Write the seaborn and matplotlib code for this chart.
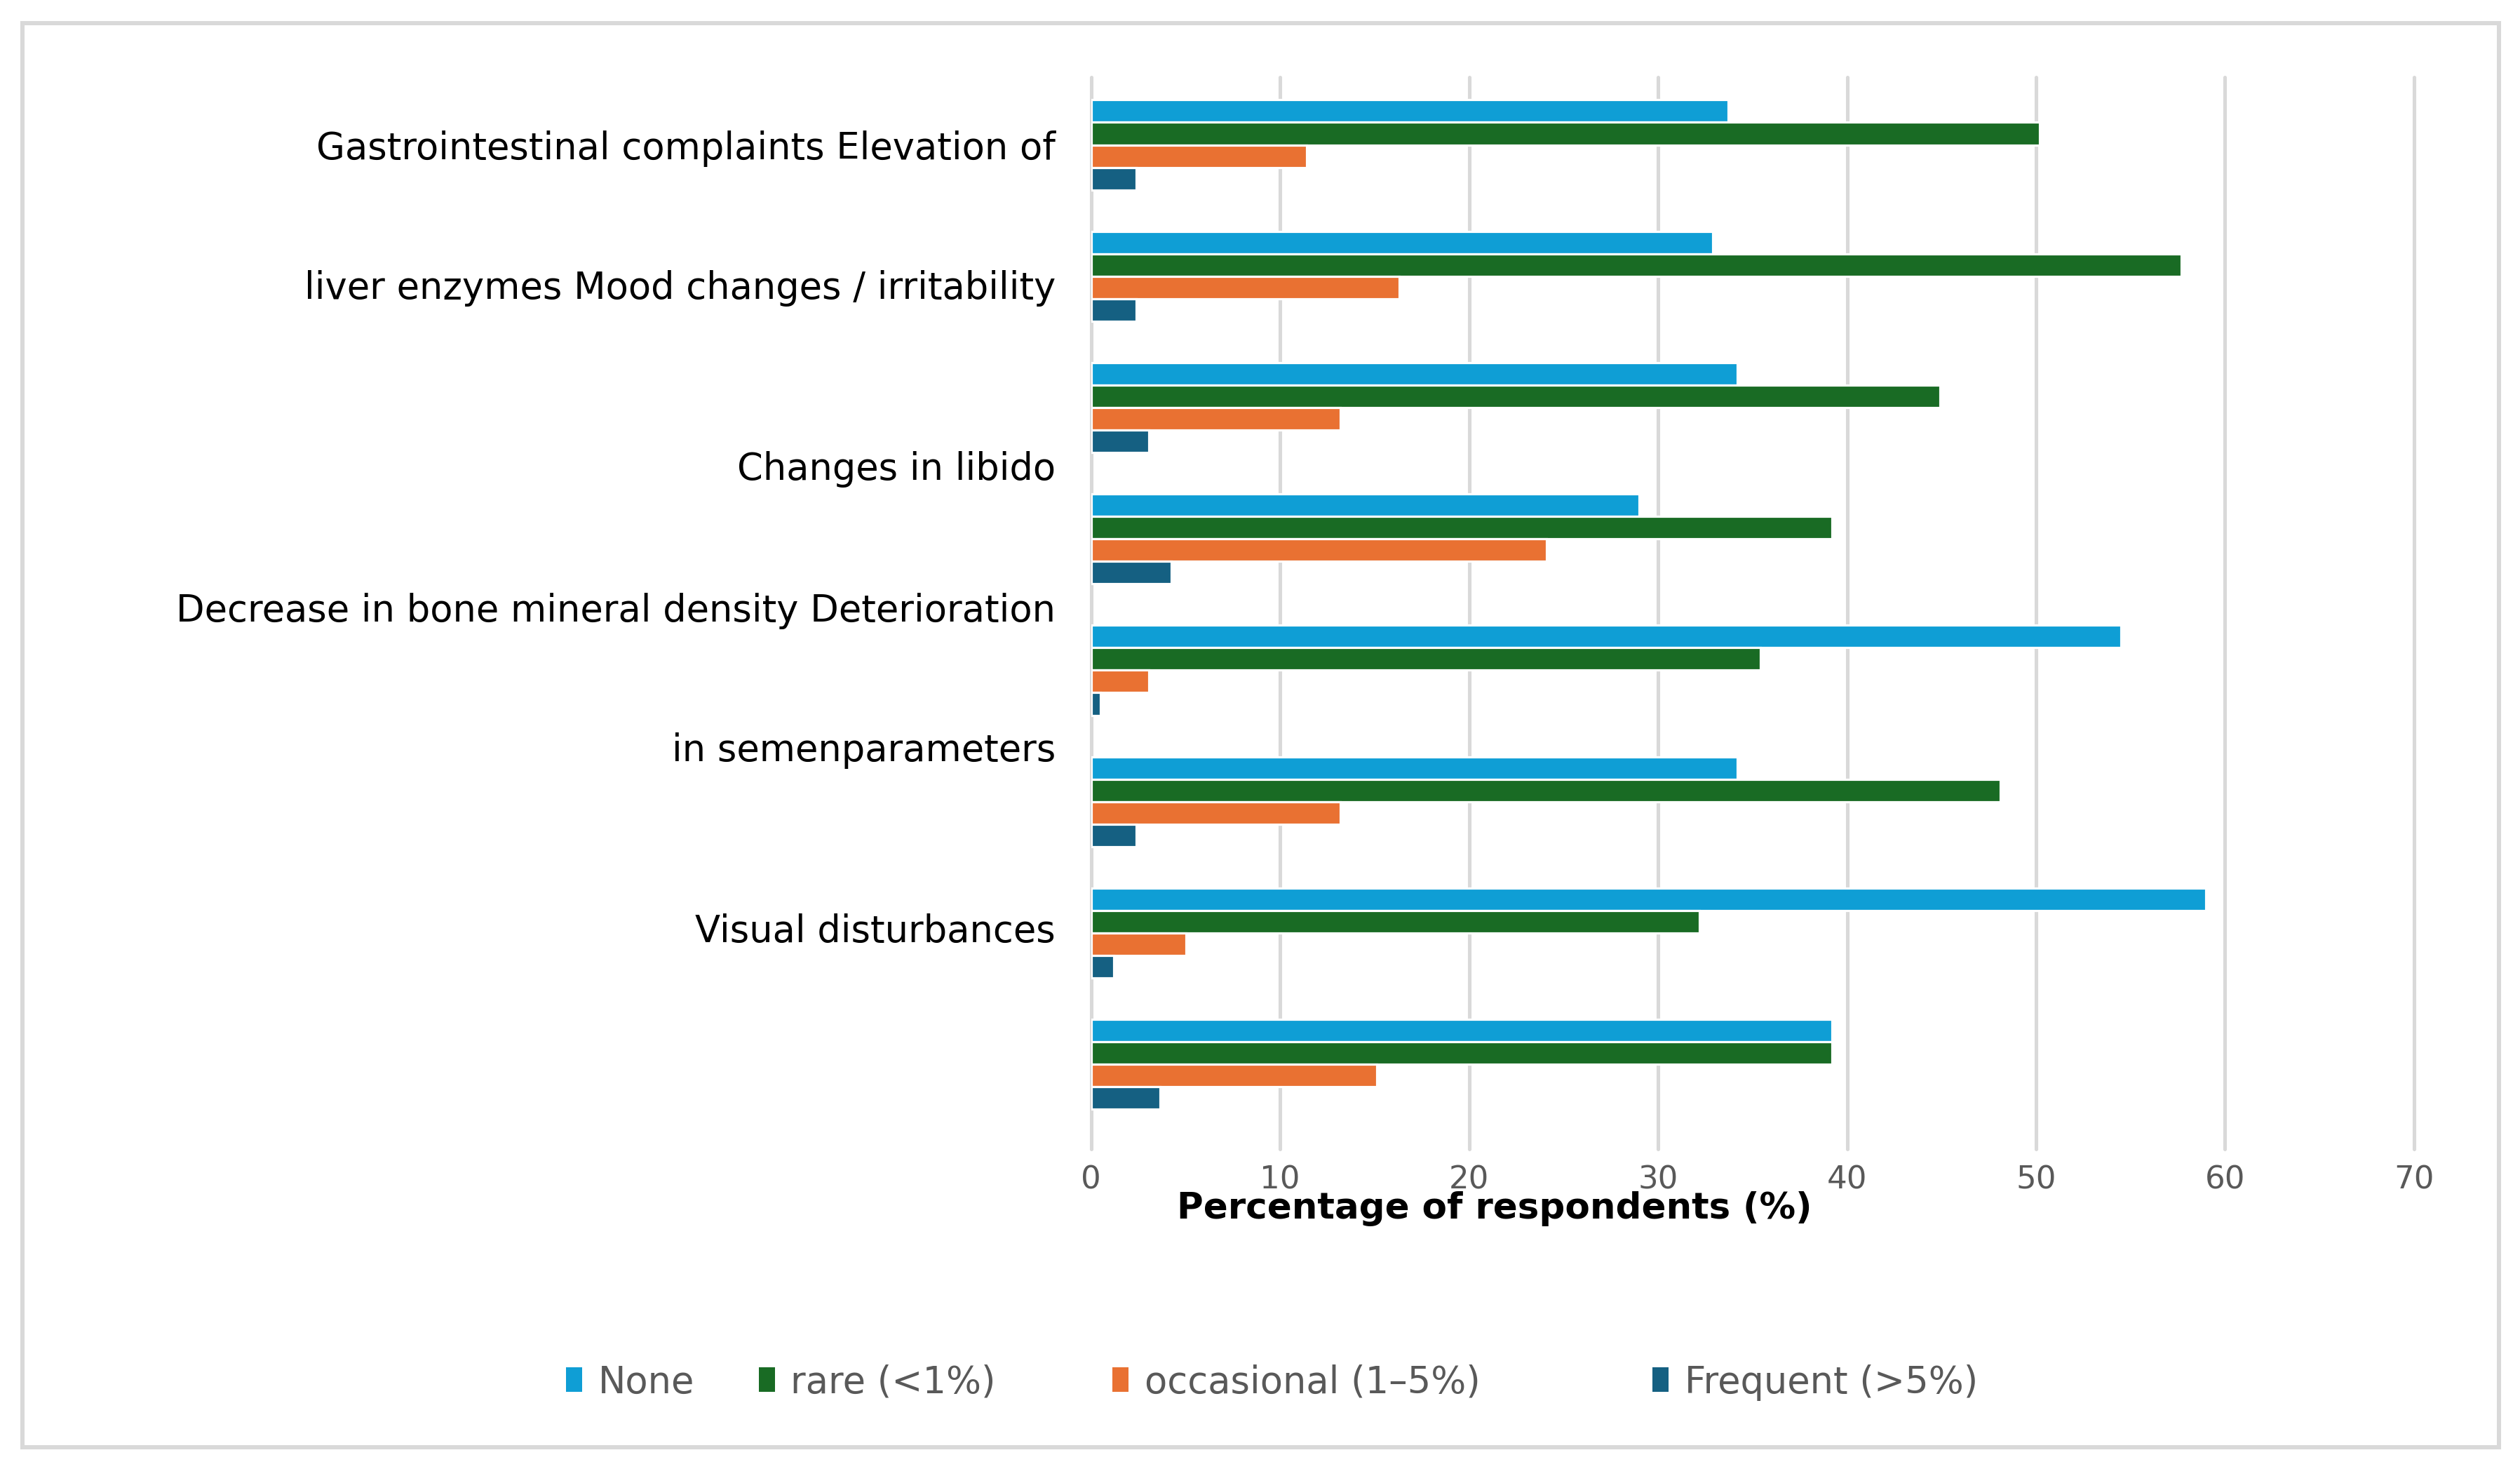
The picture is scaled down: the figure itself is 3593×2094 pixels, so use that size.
import matplotlib
matplotlib.use("Agg")
import matplotlib.pyplot as plt
import seaborn as sns
import pandas as pd
from matplotlib.patches import Rectangle, Patch

# bar groups, top to bottom
groups = ["g1", "g2", "g3", "g4", "g5", "g6", "g7", "g8"]
series = ["None", "rare (<1%)", "occasional (1\u20135%)", "Frequent (>5%)"]
none_vals = [33.7, 32.9, 34.2, 29.0, 54.5, 34.2, 59.0, 39.2]
rare_vals = [50.2, 57.7, 44.9, 39.2, 35.4, 48.1, 32.2, 39.2]
occ_vals = [11.4, 16.3, 13.2, 24.1, 3.05, 13.2, 5.0, 15.1]
freq_vals = [2.4, 2.4, 3.05, 4.25, 0.5, 2.4, 1.2, 3.65]

# the category labels are printed off-centre in the source figure
tick_labels = ["Gastrointestinal complaints Elevation of",
               "liver enzymes Mood changes / irritability",
               "Changes in libido",
               "Decrease in bone mineral density Deterioration",
               "in semenparameters",
               "Visual disturbances"]
tick_pos = [0.0, 1.06, 2.44, 3.515, 4.58, 5.96]
x_ticks = [0, 10, 20, 30, 40, 50, 60, 70]

colors = ["#0F9ED5", "#196B24", "#E97132", "#156082"]

rows = []
for s, vals in zip(series, [none_vals, rare_vals, occ_vals, freq_vals]):
    for g, v in zip(groups, vals):
        rows.append({"group": g, "series": s, "value": v})
df = pd.DataFrame(rows)

sns.set_theme(style="white")
plt.rcParams["font.family"] = ["DejaVu Sans"]

fig = plt.figure(figsize=(15.68, 9.14), dpi=229.15)
ax = fig.add_axes([0.4330, 0.2177, 0.5249, 0.7298])

sns.barplot(data=df, x="value", y="group", hue="series", order=groups,
            hue_order=series, palette=colors, width=0.685, saturation=1,
            orient="h", errorbar=None, legend=False, ax=ax)

ax.set_xlim(0, 70)
ax.set_ylim(7.646, -0.518)
ax.set_xticks(x_ticks)
ax.set_xticklabels([str(t) for t in x_ticks], fontsize=14.2, color="#595959")
ax.set_yticks(tick_pos)
ax.set_yticklabels(tick_labels, fontsize=16.6, color="black")
ax.tick_params(axis="x", length=0, pad=7)
ax.tick_params(axis="y", length=0, pad=16)
for sp in ax.spines.values():
    sp.set_visible(False)
ax.set_axisbelow(True)
ax.xaxis.grid(True, color="#d9d9d9", linewidth=1.6)
for gl in ax.get_xgridlines():
    gl.set_clip_on(False)
ax.yaxis.grid(False)
ax.set_ylabel("")
ax.set_xlabel("Percentage of respondents (%)", fontsize=16.2, fontweight="bold", color="black")
ax.xaxis.set_label_coords(0.305, -0.039)

# legend entries are spaced unevenly in the source, so place each one
leg_x = [0.2245, 0.3010, 0.4413, 0.6556]
for s, c, lx in zip(series, colors, leg_x):
    leg = fig.legend(handles=[Patch(facecolor=c, edgecolor="none", label=s)],
                     loc="center left", bbox_to_anchor=(lx, 0.0591),
                     bbox_transform=fig.transFigure, frameon=False,
                     fontsize=16.6, borderpad=0, borderaxespad=0,
                     handlelength=0.45, handleheight=0.65, handletextpad=0.42)
    for t in leg.get_texts():
        t.set_color("#595959")

fig.patches.append(Rectangle((0.0089, 0.0148), 0.9827, 0.9694, transform=fig.transFigure,
                             fill=False, edgecolor="#d9d9d9", linewidth=1.9, zorder=0))

fig.savefig("out.png", dpi=229.15, facecolor="white")
